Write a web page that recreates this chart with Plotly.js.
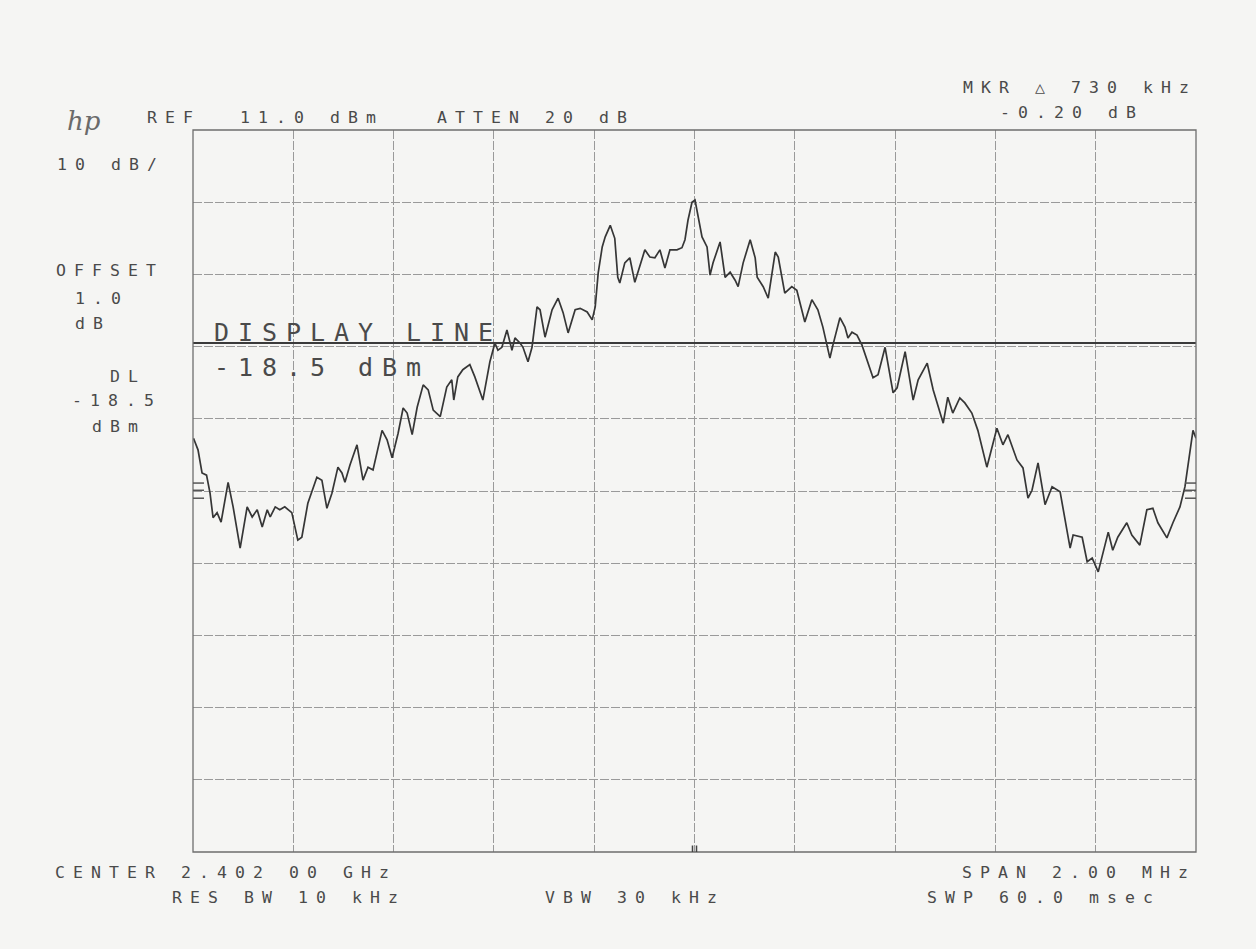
<!DOCTYPE html>
<html>
<head>
<meta charset="utf-8">
<script src="https://cdn.plot.ly/plotly-3.0.1.min.js"></script>
<style>
html,body{margin:0;padding:0;background:#f5f5f3;}
#chart{width:1256px;height:949px;}
</style>
</head>
<body>
<div id="chart"></div>
<script>
// ---- data (frequency offset from centre 2.402 00 GHz, in kHz; level in dBm) ----
const centerGHz = 2.402;
const spanKHz = 2000;
const refLevelDBm = 11.0;
const dbPerDiv = 10;
const displayLineDBm = -18.5;
const refMarkLevelsDBm = [-37.9, -38.9, -40.0];

const offsetKHz = [-999,-990,-982,-973,-966,-960,-952,-944,-930,-920,
  -906,-892,-882,-872,-862,-852,-846,-836,-827,-817,
  -803,-791,-783,-771,-753,-743,-733,-723,-711,-703,
  -697,-687,-673,-661,-651,-641,-623,-613,-603,-591,
  -581,-573,-563,-553,-541,-531,-521,-507,-494,-484,
  -480,-472,-462,-448,-438,-422,-408,-398,-392,-384,
  -374,-364,-358,-348,-342,-332,-324,-314,-308,-298,
  -284,-272,-262,-252,-238,-228,-214,-204,-198,-192,
  -184,-178,-168,-159,-153,-149,-139,-129,-119,-109,
  -99,-89,-79,-69,-59,-49,-35,-25,-19,-13,
  -5,1,7,15,25,31,37,51,61,71,
  81,87,97,111,121,125,137,147,161,167,
  180,194,204,220,234,246,256,270,276,290,
  300,306,314,324,334,346,356,366,380,396,
  404,420,436,446,464,476,496,505,515,529,
  539,553,565,583,603,615,625,643,655,665,
  673,685,699,713,729,749,755,773,783,793,
  805,825,834,844,862,872,888,902,914,924,
  942,954,968,978,994,1000];

const levelDBm = [-31.7,-33.3,-36.5,-36.8,-39.3,-42.7,-42.0,-43.3,-37.8,-41.2,
  -46.9,-41.2,-42.6,-41.6,-44.0,-41.6,-42.6,-41.2,-41.6,-41.2,
  -42.0,-45.8,-45.4,-40.7,-37.1,-37.5,-41.4,-39.3,-35.7,-36.5,
  -37.8,-35.4,-32.6,-37.5,-35.7,-36.1,-30.6,-31.9,-34.4,-31.0,
  -27.5,-28.2,-31.2,-27.4,-24.3,-25.0,-27.8,-28.7,-24.6,-23.6,
  -26.4,-23.2,-22.2,-21.5,-23.2,-26.4,-21.1,-18.5,-19.5,-19.1,
  -16.7,-19.5,-17.8,-18.5,-19.1,-21.1,-19.1,-13.5,-13.9,-17.7,
  -13.9,-12.3,-14.3,-17.1,-13.9,-13.7,-14.2,-15.3,-13.5,-8.8,
  -5.2,-3.8,-2.2,-4.0,-9.4,-10.2,-7.4,-6.7,-10.1,-8.0,
  -5.6,-6.6,-6.7,-5.6,-8.1,-5.6,-5.6,-5.3,-4.2,-1.5,
  1.0,1.3,-1.0,-3.8,-5.2,-9.1,-7.4,-4.5,-9.4,-8.7,
  -9.8,-10.7,-7.4,-4.2,-6.7,-9.4,-10.7,-12.3,-5.9,-6.6,
  -11.6,-10.7,-11.2,-15.6,-12.5,-13.9,-16.3,-20.6,-18.8,-15.0,
  -16.3,-17.8,-17.0,-17.4,-18.8,-21.3,-23.3,-22.9,-19.1,-25.4,
  -24.7,-19.7,-26.4,-23.6,-21.3,-25.0,-29.6,-26.0,-28.2,-26.1,
  -26.8,-28.2,-30.6,-35.7,-30.3,-32.6,-31.2,-34.7,-35.8,-40.0,
  -38.9,-35.1,-40.9,-38.4,-39.1,-46.9,-45.1,-45.4,-48.8,-48.3,
  -50.2,-44.7,-47.2,-45.4,-43.4,-45.1,-46.5,-41.6,-41.4,-43.4,
  -45.5,-43.4,-41.2,-38.4,-30.6,-31.7];

// ---- texts ----
const headerTexts = {
  ref: "REF", refVal: "11.0 dBm", atten: "ATTEN 20 dB",
  mkr: "MKR \u25B3 730 kHz", mkrVal: "-0.20 dB", scale: "10 dB/",
  offset: "OFFSET", offsetVal: "1.0", offsetUnit: "dB",
  dl: "DL", dlVal: "-18.5", dlUnit: "dBm",
  center: "CENTER 2.402 00 GHz", span: "SPAN 2.00 MHz",
  rbw: "RES BW 10 kHz", vbw: "VBW 30 kHz", swp: "SWP 60.0 msec",
  dispLine: "DISPLAY LINE", dispVal: "-18.5 dBm"
};

// ---- layout helpers (page pixels -> paper coords) ----
const W = 1256, H = 949, L = 193, R = 1196, T = 130, B = 852;
const px = x => (x - L) / (R - L);
const py = y => (B - y) / (B - T);
const INK = '#4a4a4a';
const FONT = 'DejaVu Sans Mono, Liberation Mono, monospace';
const SMALL = 16.5;

function txt(text, x, y, size, extra) {
  return Object.assign({
    text: text, xref: 'paper', yref: 'paper', x: px(x), y: py(y),
    xanchor: 'left', yanchor: 'middle', align: 'left', showarrow: false,
    font: {family: FONT, size: size || SMALL, color: INK}, borderpad: 0
  }, extra || {});
}

const annotations = [
  txt('hp', 66, 121, 26, {font: {family: 'DejaVu Serif, serif', size: 26, color: '#6a6a6a', style: 'italic'}}),
  txt(headerTexts.ref, 146, 117),
  txt(headerTexts.refVal, 239, 117),
  txt(headerTexts.atten, 436, 117),
  txt(headerTexts.mkr, 962, 88),
  txt(headerTexts.mkrVal, 999, 112),
  txt(headerTexts.scale, 56, 164),
  txt(headerTexts.offset, 55, 270),
  txt(headerTexts.offsetVal, 74, 298),
  txt(headerTexts.offsetUnit, 74, 323),
  txt(headerTexts.dl, 109, 376),
  txt(headerTexts.dlVal, 71, 400),
  txt(headerTexts.dlUnit, 91, 427),
  txt(headerTexts.center, 54, 872),
  txt(headerTexts.span, 961, 872),
  txt(headerTexts.rbw, 171, 897),
  txt(headerTexts.vbw, 544, 897),
  txt(headerTexts.swp, 926, 897),
  txt(headerTexts.dispLine, 213, 332, 25),
  txt(headerTexts.dispVal, 213, 367, 25)
];

const xMin = -spanKHz / 2, xMax = spanKHz / 2;
const yMax = refLevelDBm, yMin = refLevelDBm - 10 * dbPerDiv;

const shapes = [
  {type: 'line', xref: 'x', yref: 'y', x0: xMin, x1: xMax, y0: displayLineDBm, y1: displayLineDBm,
   line: {color: '#3a3a3a', width: 2}},
  {type: 'rect', xref: 'paper', yref: 'paper', x0: 0, x1: 1, y0: 0, y1: 1,
   line: {color: '#6e6e6e', width: 1.3}}
];
refMarkLevelsDBm.forEach(v => {
  shapes.push({type: 'line', xref: 'x', yref: 'y', x0: xMin, x1: xMin + 22, y0: v, y1: v, line: {color: '#555', width: 1.5}});
  shapes.push({type: 'line', xref: 'x', yref: 'y', x0: xMax - 22, x1: xMax, y0: v, y1: v, line: {color: '#555', width: 1.5}});
});
shapes.push({type: 'line', xref: 'x', yref: 'y', x0: -4, x1: -4, y0: yMin, y1: yMin + 0.9, line: {color: '#444', width: 1.5}});
shapes.push({type: 'line', xref: 'x', yref: 'y', x0: 4, x1: 4, y0: yMin, y1: yMin + 0.9, line: {color: '#444', width: 1.5}});

const trace = {
  x: offsetKHz, y: levelDBm, type: 'scatter', mode: 'lines',
  line: {color: '#363636', width: 1.7}, hoverinfo: 'skip'
};

const layout = {
  width: W, height: H,
  margin: {l: L, r: W - R, t: T, b: H - B, pad: 0},
  paper_bgcolor: '#f5f5f3', plot_bgcolor: '#f5f5f3',
  showlegend: false,
  xaxis: {range: [xMin, xMax], dtick: spanKHz / 10, tick0: xMin, showticklabels: false,
          ticks: '', showgrid: true, gridcolor: '#9a9a9a', gridwidth: 1, griddash: '9px,2px',
          zeroline: false, showline: false, fixedrange: true},
  yaxis: {range: [yMin, yMax], dtick: dbPerDiv, tick0: yMax, showticklabels: false,
          ticks: '', showgrid: true, gridcolor: '#9a9a9a', gridwidth: 1, griddash: '9px,2px',
          zeroline: false, showline: false, fixedrange: true},
  annotations: annotations,
  shapes: shapes
};

Plotly.newPlot('chart', [trace], layout, {staticPlot: true, displayModeBar: false}).then(() => {
  document.querySelectorAll('.annotation-text').forEach(el => {
    if (el.textContent === 'hp') return;
    const fs = parseFloat(el.style.fontSize || '16');
    const advance = fs > 20 ? 24 : 18;
    el.style.letterSpacing = (advance - 0.602 * fs).toFixed(2) + 'px';
  });
});
</script>
</body>
</html>
